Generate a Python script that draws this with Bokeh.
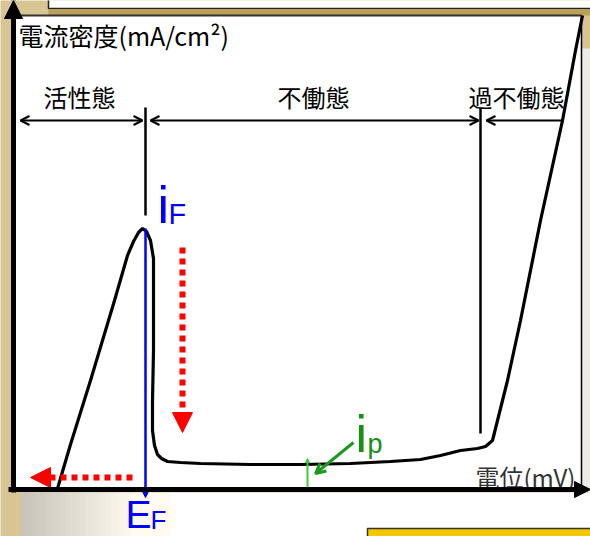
from bokeh.plotting import figure
from bokeh.models import Arrow, NormalHead, OpenHead, Range1d
from bokeh.core.properties import value
from bokeh.embed import file_html
from bokeh.resources import INLINE

# ---- data (potential in mV-like units, current density) ----
potential = [45, 58, 78, 102, 115, 121, 126, 130, 134, 138, 141, 141, 141, 140, 140, 142, 145, 149, 155,
             168, 188, 238, 288, 338, 378, 408, 428, 448, 465, 473, 480, 485, 495, 508, 528, 550, 563, 570]
current = [0, 44, 108, 188, 233, 247, 256, 260, 257, 248, 230, 188, 138, 88, 58, 43, 34, 30, 27,
           26, 25, 24, 24, 25, 27, 29, 33, 38, 40, 42, 48, 68, 108, 168, 268, 368, 438, 473]

region_labels = ["活性態", "不働態", "過不働態"]
region_label_x = [31, 265, 456]
region_bounds = [8, 133, 468, 551]   # activity region borders on potential axis
E_F = 133          # Flade potential
i_F = 260          # critical passivation current
i_p_x = 295        # passive current marker position
i_p = 30

X0, X1 = -12, 578
Y0, Y1 = -48, 488

p = figure(width=590, height=536, x_range=Range1d(X0, X1), y_range=Range1d(Y0, Y1),
           output_backend="svg", toolbar_location=None, min_border=0)
p.axis.visible = False
p.grid.visible = False
p.outline_line_color = None
p.background_fill_color = "#d8c593"
p.border_fill_color = "#d8c593"

# slide decorations (title box edge)
p.quad(left=[36], right=[X1 + 5], bottom=[480], top=[Y1 + 10], fill_color="white", line_color="#222222", line_width=1.5)
p.quad(left=[36], right=[X1 + 5], bottom=[473], top=[479], fill_color="#b9a257", line_color=None)
# gradient strip below the x axis
n = 30
for k in range(n):
    t = k / (n - 1)
    c = int(200 + 55 * min(1.0, t * 1.3))
    g = "#%02x%02x%02x" % (c, c - 4, max(c - 14, 0))
    p.quad(left=[8 + k * 5], right=[8 + (k + 1) * 5 + 1], bottom=[Y0 - 5], top=[-4], fill_color=g, line_color=None)
p.quad(left=[158], right=[X1 + 5], bottom=[Y0 - 5], top=[-4], fill_color="white", line_color=None)
p.quad(left=[569], right=[X1 + 5], bottom=[-4], top=[440], fill_color="#ecebe6", line_color=None)
# yellow box at the bottom of the slide
p.quad(left=[355], right=[X1 + 10], bottom=[Y0 - 10], top=[-40], fill_color="#f6c800", line_color="#333333", line_width=1.5)

# white panel
p.quad(left=[2], right=[569], bottom=[0], top=[473], fill_color="white", line_color=None)
p.line([569, 569], [0, 473], line_color="black", line_width=1.5)
p.line([2, 569], [473, 473], line_color="#333333", line_width=2)

# region labels and arrows
p.text(x=region_label_x, y=[392, 392, 392], text=region_labels, text_font=value("Noto Sans CJK JP"),
       text_font_size="24px", text_align="left", text_baseline="middle", text_color="black")
ay = 368
p.add_layout(Arrow(x_start=region_bounds[0], y_start=ay, x_end=region_bounds[1] - 3, y_end=ay,
                   start=OpenHead(size=9, line_width=2), end=OpenHead(size=9, line_width=2), line_width=2))
p.add_layout(Arrow(x_start=region_bounds[1] + 5, y_start=ay, x_end=region_bounds[2] - 2, y_end=ay,
                   start=OpenHead(size=9, line_width=2), end=OpenHead(size=9, line_width=2), line_width=2))
p.add_layout(Arrow(x_start=region_bounds[2] + 6, y_start=ay, x_end=region_bounds[3], y_end=ay,
                   start=OpenHead(size=9, line_width=2), end=None, line_width=2))
p.line([region_bounds[1], region_bounds[1]], [381, 273], line_color="black", line_width=2.5)
p.line([region_bounds[2], region_bounds[2]], [380, 55], line_color="black", line_width=2.5)

# polarisation curve
p.line(potential, current, line_color="black", line_width=3.2)

# E_F blue line
p.add_layout(Arrow(x_start=E_F, y_start=i_F, x_end=E_F, y_end=-9,
                   end=NormalHead(size=6, fill_color="blue", line_color="blue"), line_color="blue", line_width=2.5))

# red dotted arrows
p.add_layout(Arrow(x_start=170, y_start=241, x_end=170, y_end=56, line_color="red", line_width=6, line_dash="6 5",
                   end=NormalHead(size=20, fill_color="red", line_color="red", line_width=1)))
p.add_layout(Arrow(x_start=120, y_start=11, x_end=18, y_end=11, line_color="red", line_width=6, line_dash="6 5",
                   end=NormalHead(size=20, fill_color="red", line_color="red", line_width=1)))

# i_p marker
p.add_layout(Arrow(x_start=i_p_x, y_start=0, x_end=i_p_x, y_end=i_p, line_color="#3ccc3c", line_width=2,
                   end=NormalHead(size=4, fill_color="#3ccc3c", line_color="#3ccc3c")))
p.add_layout(Arrow(x_start=341, y_start=46, x_end=303, y_end=15, line_color="#1a9a1a", line_width=3,
                   end=OpenHead(size=10, line_color="#1a9a1a", line_width=3)))

# labels
sans = value("Liberation Sans")
p.text(x=[145], y=[284], text=["i"], text_font=sans, text_font_size="52px", text_color="blue",
       text_align="left", text_baseline="alphabetic")
p.text(x=[156], y=[275], text=["F"], text_font=sans, text_font_size="29px", text_color="blue",
       text_align="left", text_baseline="alphabetic")
p.text(x=[113], y=[-26], text=["E"], text_font=sans, text_font_size="39px", text_color="blue",
       text_align="left", text_baseline="alphabetic")
p.text(x=[138], y=[-31], text=["F"], text_font=sans, text_font_size="26px", text_color="blue",
       text_align="left", text_baseline="alphabetic")
p.text(x=[343], y=[55], text=["i"], text_font=sans, text_font_size="52px", text_color="#159015",
       text_align="left", text_baseline="alphabetic")
p.text(x=[355], y=[45], text=["p"], text_font=sans, text_font_size="27px", text_color="#159015",
       text_align="left", text_baseline="alphabetic")

# axes
p.add_layout(Arrow(x_start=1, y_start=-4, x_end=1, y_end=Y1, line_color="black", line_width=5,
                   end=NormalHead(size=18, fill_color="black", line_color="black")))
p.add_layout(Arrow(x_start=-4, y_start=-1, x_end=X1, y_end=-1, line_color="black", line_width=5,
                   end=NormalHead(size=16, fill_color="black", line_color="black")))
p.text(x=[6], y=[454], text=["電流密度(mA/cm²)"], text_font=value("Noto Sans CJK JP"), text_font_size="25px",
       text_align="left", text_baseline="middle", text_color="black")
p.text(x=[463], y=[12], text=["電位(mV)"], text_font=value("Noto Sans CJK JP"), text_font_size="24px",
       text_align="left", text_baseline="middle", text_color="#333333")

open("out.html", "w").write(file_html(p, INLINE))
